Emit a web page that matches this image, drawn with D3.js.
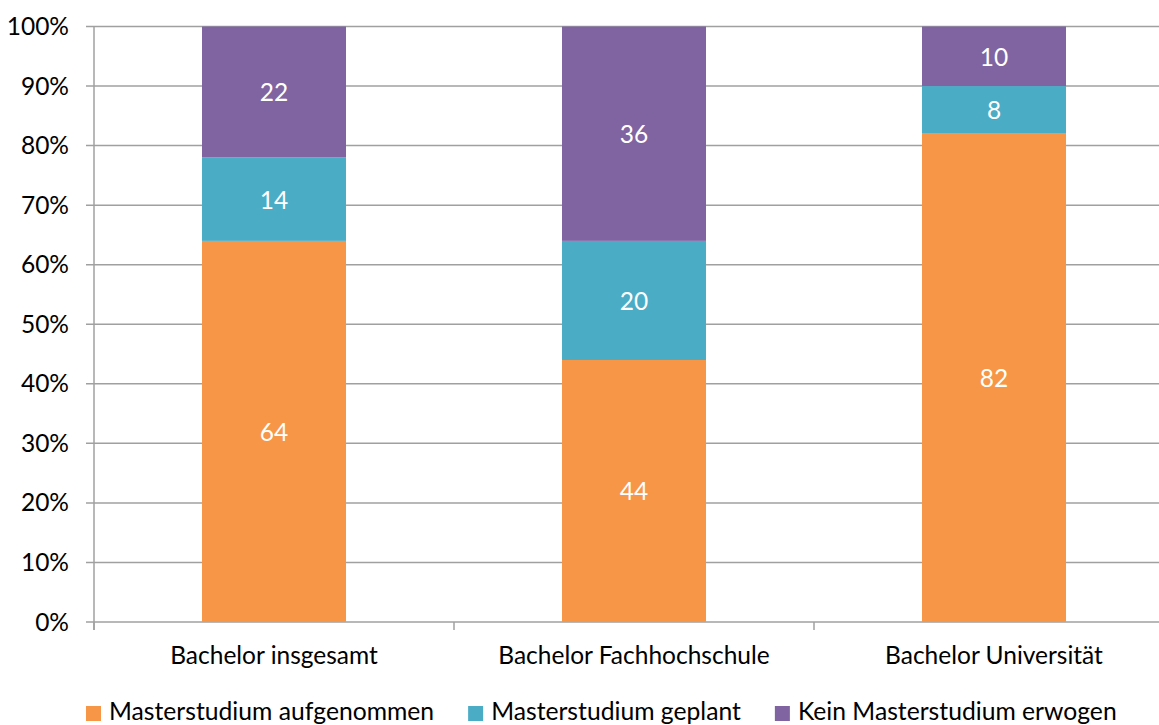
<!DOCTYPE html>
<html>
<head>
<meta charset="utf-8">
<script src="https://cdn.jsdelivr.net/npm/d3@7"></script>
<style>
  html, body { margin: 0; padding: 0; background: #fff; }
  svg { display: block; }
  text { font-family: Lato, "Liberation Sans", sans-serif; }
</style>
</head>
<body>
<svg id="chart" width="1159" height="725"></svg>
<script>
const categories = ["Bachelor insgesamt", "Bachelor Fachhochschule", "Bachelor Universität"];
const seriesNames = ["Masterstudium aufgenommen", "Masterstudium geplant", "Kein Masterstudium erwogen"];
const aufgenommen = [64, 44, 82];
const geplant = [14, 20, 8];
const keinMaster = [22, 36, 10];
const yTicks = [0, 10, 20, 30, 40, 50, 60, 70, 80, 90, 100];
const colors = ["#F79646", "#4BACC6", "#8064A2"];

const seriesValues = [aufgenommen, geplant, keinMaster];
const rows = categories.map((c, i) => {
  const r = { cat: c };
  seriesNames.forEach((s, j) => r[s] = seriesValues[j][i]);
  return r;
});
const stacked = d3.stack().keys(seriesNames)(rows);

const svg = d3.select("#chart");
const fontSize = 24.5;
const legendFont = 24.7;
const x0 = 94, x1 = 1174, yTop = 26.5, yBot = 622;

const x = d3.scaleBand().domain(categories).range([x0, x1]).paddingInner(0.6).paddingOuter(0.3);
const y = d3.scaleLinear().domain([0, 100]).range([yBot, yTop]);

// gridlines
svg.append("g").selectAll("line").data(yTicks).join("line")
  .attr("x1", x0 - 8).attr("x2", x1)
  .attr("y1", d => y(d)).attr("y2", d => y(d))
  .attr("stroke", "#A0A0A0").attr("stroke-width", 1.5);

// y axis line
svg.append("line").attr("x1", x0).attr("x2", x0).attr("y1", yTop).attr("y2", yBot + 8)
  .attr("stroke", "#A0A0A0").attr("stroke-width", 1.5);

// category ticks
const step = x.step();
const boundaries = d3.range(categories.length + 1).map(i => x0 + i * step);
svg.append("g").selectAll("line").data(boundaries).join("line")
  .attr("x1", d => d).attr("x2", d => d).attr("y1", yBot).attr("y2", yBot + 8)
  .attr("stroke", "#A0A0A0").attr("stroke-width", 1.5);

// y tick labels
svg.append("g").selectAll("text").data(yTicks).join("text")
  .attr("x", 69).attr("y", d => y(d)).attr("dy", "0.35em")
  .attr("text-anchor", "end").attr("font-size", fontSize).attr("fill", "#000")
  .text(d => d + "%");

// bars
const gBars = svg.append("g");
stacked.forEach((s, j) => {
  gBars.append("g").attr("fill", colors[j]).selectAll("rect").data(s).join("rect")
    .attr("x", d => x(d.data.cat)).attr("width", x.bandwidth())
    .attr("y", d => y(d[1])).attr("height", d => y(d[0]) - y(d[1]));
  gBars.append("g").selectAll("text").data(s).join("text")
    .attr("x", d => x(d.data.cat) + x.bandwidth() / 2)
    .attr("y", d => (y(d[0]) + y(d[1])) / 2).attr("dy", "0.38em")
    .attr("text-anchor", "middle").attr("font-size", fontSize).attr("fill", "#fff")
    .text(d => d[1] - d[0]);
});

// category labels
svg.append("g").selectAll("text").data(categories).join("text")
  .attr("x", d => x(d) + x.bandwidth() / 2).attr("y", 664)
  .attr("text-anchor", "middle").attr("font-size", fontSize).attr("fill", "#000")
  .text(d => d);

// legend
const legend = svg.append("g");
let lx = 86;
seriesNames.forEach((s, j) => {
  legend.append("rect").attr("x", lx).attr("y", 706).attr("width", 15).attr("height", 15).attr("fill", colors[j]);
  const t = legend.append("text").attr("x", lx + 23).attr("y", 720)
    .attr("font-size", legendFont).attr("fill", "#000").text(s);
  lx += 23 + t.node().getComputedTextLength() + 34;
});
</script>
</body>
</html>
